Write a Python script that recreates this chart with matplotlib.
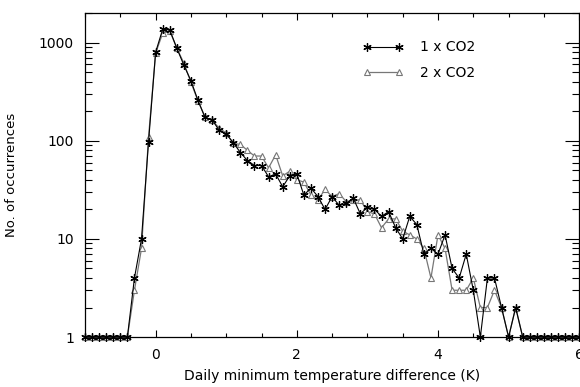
import numpy as np
import matplotlib
matplotlib.use('Agg')
import matplotlib.pyplot as plt
from matplotlib.ticker import LogLocator, MultipleLocator, NullFormatter, FixedLocator

# bin centres (K), 0.1 K bins from -1 to 6
temp_diff = np.round(np.arange(-1.0, 6.001, 0.1), 1)

# counts per bin, 1 x CO2 run (empty bins drawn on the axis at 1)
counts_1x = [1, 1, 1, 1, 1, 1, 1,
             4, 10, 98, 800, 1370, 1350, 880, 590, 410, 258,
             173, 164, 128, 117, 96, 76, 63, 56, 56, 43,
             46, 34, 44, 46, 28, 33, 27, 20, 27, 22,
             23, 26, 18, 21, 20, 17, 19, 13, 10, 17,
             14, 7, 8, 7, 11, 5, 4, 7, 3, 1,
             4, 4, 2, 1, 2,
             1, 1, 1, 1, 1, 1, 1, 1, 1]

# counts per bin, 2 x CO2 run
counts_2x = [1, 1, 1, 1, 1, 1, 1,
             3, 8, 110, 780, 1250, 1320, 880, 620, 395, 255,
             175, 162, 135, 120, 94, 92, 80, 70, 70, 53,
             72, 44, 49, 40, 38, 28, 25, 32, 27, 29,
             24, 25, 25, 19, 18, 13, 16, 16, 12, 11,
             10, 8, 4, 11, 8, 3, 3, 3, 4, 2,
             2, 3, 2, 1, 2,
             1, 1, 1, 1, 1, 1, 1, 1, 1]

labels = ['1 x CO2', '2 x CO2']

fig = plt.figure(figsize=(5.8, 3.87), dpi=100)
ax = fig.add_axes([0.1466, 0.129, 0.852, 0.837])

gray = '#777777'
ax.plot(temp_diff, counts_2x, color=gray, lw=0.9, marker='^', ms=5,
        mfc='white', mec=gray, mew=0.8, clip_on=False, label=labels[1], zorder=3)
ax.plot(temp_diff, counts_1x, color='black', lw=0.8, marker=(6, 2, 0), ms=6,
        mec='black', mew=0.9, clip_on=False, label=labels[0], zorder=4)

ax.set_yscale('log')
ax.set_xlim(-1, 6)
ax.set_ylim(1, 2000)

ax.xaxis.set_major_locator(MultipleLocator(2))
ax.xaxis.set_minor_locator(MultipleLocator(0.5))
ax.yaxis.set_major_locator(FixedLocator([1, 10, 100, 1000]))
ax.yaxis.set_minor_locator(LogLocator(base=10, subs=np.arange(2, 10)))
ax.yaxis.set_minor_formatter(NullFormatter())
ax.set_yticklabels(['1', '10', '100', '1000'])

ax.tick_params(which='both', direction='in', top=True, right=True,
               labelsize=10, colors='black')
ax.tick_params(axis='y', which='major', length=10, width=0.8, pad=8)
ax.tick_params(axis='y', which='minor', length=5, width=0.8)
ax.tick_params(axis='x', which='major', length=5, width=0.8, pad=8)
ax.tick_params(axis='x', which='minor', length=3, width=0.8)
for s in ax.spines.values():
    s.set_linewidth(0.9)

ax.set_xlabel('Daily minimum temperature difference (K)', fontsize=10, labelpad=5)
ax.set_ylabel('No. of occurrences', fontsize=9.5, labelpad=15)

handles, labs = ax.get_legend_handles_labels()
ax.legend(handles[::-1], labs[::-1], loc='upper left', bbox_to_anchor=(0.562, 0.916),
          frameon=False, numpoints=2, handlelength=2.9, handletextpad=1.2,
          labelspacing=0.85, borderpad=0, borderaxespad=0, fontsize=10)

fig.savefig('out.png', dpi=100)
